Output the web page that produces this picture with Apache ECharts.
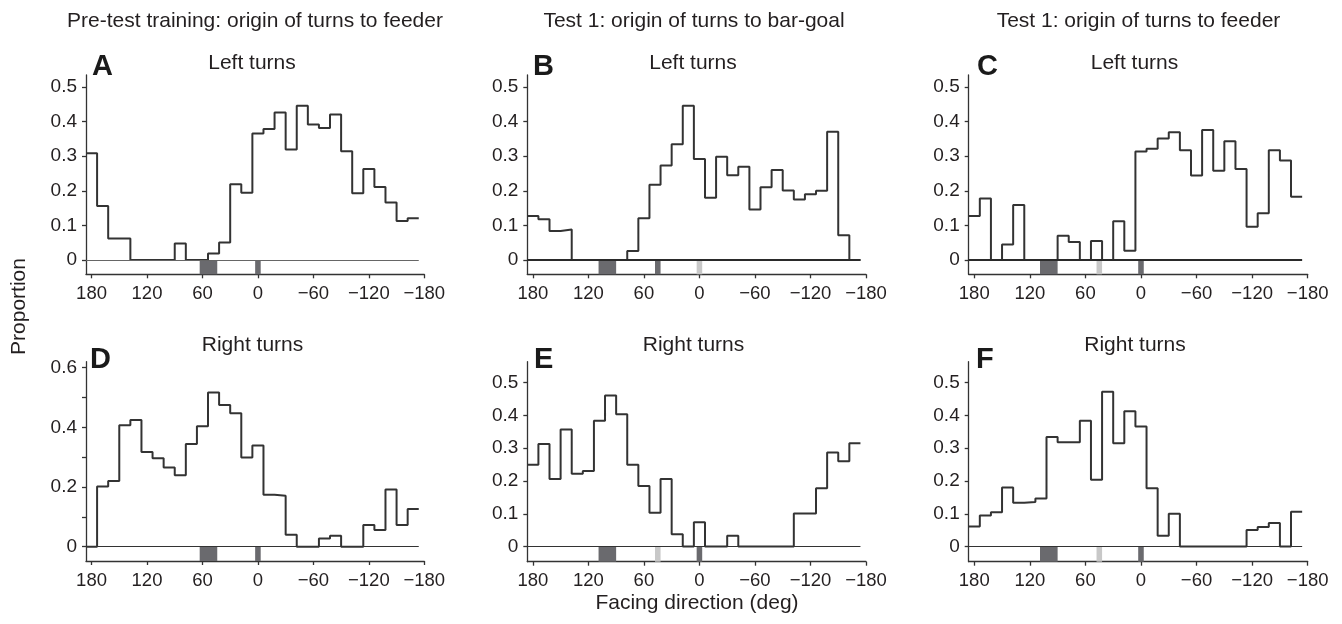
<!DOCTYPE html>
<html>
<head>
<meta charset="utf-8">
<script src="https://cdn.jsdelivr.net/npm/echarts@6/dist/echarts.min.js"></script>
<style>
html,body{margin:0;padding:0;background:#fff;}
#chart{width:1342px;height:624px;}
</style>
</head>
<body>
<div id="chart"></div>
<script>
// ---- data ----
const binCenters = [180,168,156,144,132,120,108,96,84,72,60,48,36,24,12,0,-12,-24,-36,-48,-60,-72,-84,-96,-108,-120,-132,-144,-156,-168];
const binWidth = 12;
const xTickValues = [180,120,60,0,-60,-120,-180];

const panelA = [0.308,0.156,0.062,0.062,0,0,0,0,0.048,0,0,0.019,0.051,0.219,0.194,0.365,0.378,0.426,0.319,0.445,0.391,0.381,0.420,0.314,0.193,0.263,0.211,0.166,0.113,0.121];
const panelB = [0.127,0.118,0.084,0.088,0,0,0,0,0,0.026,0.121,0.217,0.273,0.334,0.445,0.292,0.180,0.298,0.245,0.269,0.146,0.210,0.260,0.201,0.175,0.190,0.200,0.370,0.072,0];
const panelC = [0.127,0.178,0,0.045,0.159,0,0,0,0.070,0.052,0,0.055,0,0.112,0.027,0.313,0.321,0.351,0.369,0.317,0.244,0.375,0.258,0.343,0.263,0.096,0.135,0.317,0.287,0.183];
const panelD = [0,0.202,0.220,0.407,0.425,0.317,0.296,0.265,0.239,0.344,0.404,0.517,0.475,0.447,0.299,0.339,0.174,0.171,0.040,0,0,0.027,0.037,0,0,0.073,0.056,0.192,0.073,0.126];
const panelE = [0.250,0.313,0.206,0.357,0.222,0.231,0.384,0.461,0.404,0.250,0.185,0.103,0.206,0.038,0,0.074,0,0,0.033,0,0,0,0,0,0.101,0.101,0.178,0.287,0.260,0.315];
const panelF = [0.061,0.095,0.105,0.180,0.134,0.136,0.147,0.334,0.318,0.318,0.384,0.204,0.472,0.315,0.413,0.366,0.178,0.033,0.100,0,0,0,0,0,0,0.051,0.060,0.072,0,0.106];

// landmark direction markers (deg ranges) shown below the zero line
const markersA = [{from:63,to:44,tone:'dark'},{from:3,to:-3,tone:'dark'}];
const markersB = [{from:109,to:90,tone:'dark'},{from:48,to:42,tone:'dark'},{from:3,to:-3,tone:'light'}];
const markersC = [{from:109,to:90,tone:'dark'},{from:48,to:42,tone:'light'},{from:3,to:-3,tone:'dark'}];
const markersD = markersA;
const markersE = [{from:109,to:90,tone:'dark'},{from:48,to:42,tone:'light'},{from:3,to:-3,tone:'dark'}];
const markersF = markersC;

const columnTitles = ['Pre-test training: origin of turns to feeder','Test 1: origin of turns to bar-goal','Test 1: origin of turns to feeder'];
const rowTitles = ['Left turns','Right turns'];
const panelLetters = ['A','B','C','D','E','F'];
const yTicks1 = [0,0.1,0.2,0.3,0.4,0.5];
const yTicksD = [0,0.1,0.2,0.3,0.4,0.5,0.6];
const yLabelsD = [0,0.2,0.4,0.6];

// ---- layout ----
const FONT = "'Liberation Sans', Arial, Helvetica, sans-serif";
const TXT = '#231f20';
const AX = '#333';
const panels = [
  {vals:panelA, marks:markersA, grid:{left:86, top:75, width:338.3, height:199.3}, y:[-0.041,0.534], yt:yTicks1, yl:yTicks1, zero:{color:'#666', width:1}},
  {vals:panelB, marks:markersB, grid:{left:527.3, top:75, width:338.7, height:199.3}, y:[-0.041,0.534], yt:yTicks1, yl:yTicks1, zero:{color:'#2a2a2a', width:2}},
  {vals:panelC, marks:markersC, grid:{left:968.7, top:75, width:339, height:199.3}, y:[-0.041,0.534], yt:yTicks1, yl:yTicks1, zero:{color:'#2a2a2a', width:2}},
  {vals:panelD, marks:markersD, grid:{left:86, top:361.7, width:338.3, height:199.3}, y:[-0.048,0.62], yt:yTicksD, yl:yLabelsD, zero:{color:'#333', width:1.2}},
  {vals:panelE, marks:markersE, grid:{left:527.3, top:361.7, width:338.7, height:200}, y:[-0.046,0.564], yt:yTicks1, yl:yTicks1, zero:{color:'#333', width:1.2}},
  {vals:panelF, marks:markersF, grid:{left:968.7, top:361.7, width:339, height:200}, y:[-0.046,0.564], yt:yTicks1, yl:yTicks1, zero:{color:'#333', width:1.2}}
];

const toneColor = {dark:'#6a6a6e', light:'#c8c8c8'};
const fmtX = v => String(v).replace('-', '\u2212');
const fmtY = v => v === 0 ? '0' : v.toFixed(1);

const grids = [], xAxes = [], yAxes = [], series = [];
panels.forEach((p, i) => {
  grids.push(Object.assign({containLabel:false}, p.grid));
  xAxes.push({
    type:'value', gridIndex:i, inverse:true, min:-180, max:binCenters[0]+binWidth/2,
    axisLine:{show:true, onZero:false, lineStyle:{color:AX, width:1.3}},
    axisTick:{show:true, inside:false, length:4, customValues:xTickValues, lineStyle:{color:AX, width:1.3}},
    axisLabel:{show:true, customValues:xTickValues, formatter:fmtX, margin:10, fontSize:18.5, color:TXT, fontFamily:FONT},
    splitLine:{show:false}
  });
  yAxes.push({
    type:'value', gridIndex:i, min:p.y[0], max:p.y[1],
    axisLine:{show:true, onZero:false, lineStyle:{color:AX, width:1.3}},
    axisTick:{show:true, inside:false, length:4, customValues:p.yt, lineStyle:{color:AX, width:1.3}},
    axisLabel:{show:true, customValues:p.yl, formatter:fmtY, margin:9, fontSize:19, color:TXT, fontFamily:FONT},
    splitLine:{show:false}
  });
  // step histogram: one point per bin left edge, plus the final right edge
  const pts = p.vals.map((v, k) => [binCenters[k] + binWidth/2, v]);
  pts.push([binCenters[binCenters.length-1] - binWidth/2, p.vals[p.vals.length-1]]);
  const firstEdge = binCenters[0] + binWidth/2;
  const lastEdge = binCenters[binCenters.length-1] - binWidth/2;
  series.push({
    type:'line', xAxisIndex:i, yAxisIndex:i, step:'end', data:pts,
    showSymbol:false, symbol:'none', silent:true, animation:false, z:3,
    lineStyle:{color:'#333', width:2},
    markArea:{
      silent:true,
      data:p.marks.map(m => [
        {xAxis:m.from, yAxis:p.y[0], itemStyle:{color:toneColor[m.tone]}},
        {xAxis:m.to, yAxis:0}
      ])
    },
    markLine:{
      silent:true, symbol:'none', animation:false,
      label:{show:false},
      lineStyle:{type:'solid', color:p.zero.color, width:p.zero.width},
      data:[[{coord:[firstEdge,0]},{coord:[lastEdge,0]}]]
    }
  });
});

// ---- text ----
const colCenters = [255, 694, 1138.5];
const subCenters = [[252,693,1134.5],[252.5,693.5,1135]];
const graphic = [];
columnTitles.forEach((t, c) => graphic.push({type:'text', x:colCenters[c], y:21,
  style:{text:t, font:'21px ' + FONT, fill:TXT, textAlign:'center', textVerticalAlign:'middle'}}));
rowTitles.forEach((t, r) => subCenters[r].forEach(cx => graphic.push({type:'text', x:cx, y:r===0?63:345.5,
  style:{text:t, font:'21px ' + FONT, fill:TXT, textAlign:'center', textVerticalAlign:'middle'}})));
const letterPos = [[92,67],[533,67],[977,67],[90,360],[534,360],[976,360]];
panelLetters.forEach((l, k) => graphic.push({type:'text', x:letterPos[k][0], y:letterPos[k][1],
  style:{text:l, font:'bold 29px ' + FONT, fill:'#1a1a1a', textAlign:'left', textVerticalAlign:'middle'}}));
graphic.push({type:'text', x:19.5, y:306.5, rotation:Math.PI/2,
  style:{text:'Proportion', font:'21px ' + FONT, fill:TXT, textAlign:'center', textVerticalAlign:'middle'}});
graphic.push({type:'text', x:697, y:603,
  style:{text:'Facing direction (deg)', font:'21px ' + FONT, fill:TXT, textAlign:'center', textVerticalAlign:'middle'}});

const chart = echarts.init(document.getElementById('chart'), null, {renderer:'canvas'});
chart.setOption({
  animation:false,
  backgroundColor:'#fff',
  grid:grids, xAxis:xAxes, yAxis:yAxes, series:series, graphic:graphic
});
</script>
</body>
</html>
